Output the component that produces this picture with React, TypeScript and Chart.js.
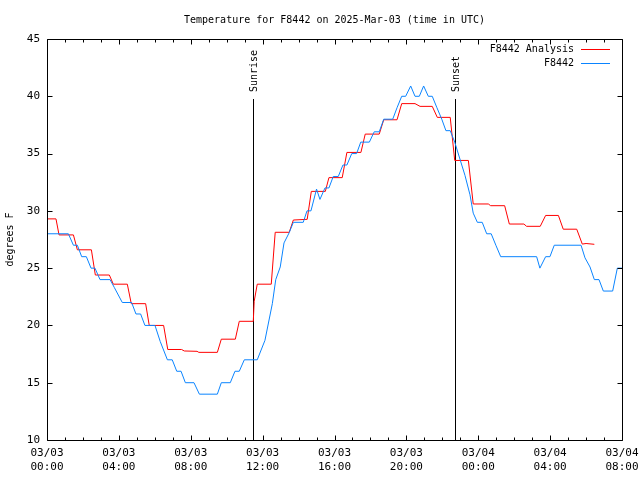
import React, { useEffect, useRef } from "react";
import { Chart, registerables } from "chart.js";

Chart.register(...registerables);

const FONT = '"DejaVu Sans Mono", "Liberation Mono", monospace';

const titleText = "Temperature for F8442 on 2025-Mar-03 (time in UTC)";
const yAxisTitle = "degrees F";

// hours since 2025-03-03 00:00 UTC
const analysisHours = [
  0, 0.5, 0.67, 1.47, 1.69, 2.47, 2.69, 3.47, 3.69, 4.47, 4.69, 5.49, 5.69, 6.49, 6.72, 7.49, 7.64, 8.35,
  8.45, 9.48, 9.7, 10.48, 10.7, 11.48, 11.53, 11.7, 12.48, 12.7, 13.48, 13.71, 14.48, 14.71, 15.49, 15.69,
  16.43, 16.69, 17.47, 17.71, 18.49, 18.74, 19.48, 19.74, 20.48, 20.76, 21.44, 21.72, 22.44, 22.69, 23.45,
  23.72, 24.56, 24.69, 25.47, 25.73, 26.54, 26.69, 27.45, 27.75, 28.46, 28.73, 29.48, 29.79, 30.0, 30.46,
];
const analysisTemps = [
  29.3, 29.3, 27.9, 27.9, 26.6, 26.6, 24.4, 24.4, 23.6, 23.6, 21.9, 21.9, 20.0, 20.0, 17.9, 17.9, 17.77, 17.74,
  17.65, 17.65, 18.8, 18.8, 20.36, 20.36, 22.1, 23.6, 23.6, 28.13, 28.13, 29.2, 29.26, 31.7, 31.7, 32.9,
  32.9, 35.1, 35.1, 36.7, 36.7, 37.95, 37.95, 39.36, 39.36, 39.12, 39.12, 38.16, 38.16, 34.4, 34.4,
  30.6, 30.6, 30.45, 30.45, 28.85, 28.85, 28.65, 28.65, 29.6, 29.6, 28.4, 28.4, 27.1, 27.15, 27.08,
];

const obsHours = [
  0, 1.19, 1.47, 1.69, 1.93, 2.19, 2.45, 2.67, 2.95, 3.51, 3.75, 4.19, 4.71, 4.95, 5.21, 5.45, 6.01, 6.3,
  6.7, 6.97, 7.22, 7.46, 7.7, 8.18, 8.48, 9.48, 9.7, 10.2, 10.46, 10.7, 10.98, 11.7, 12.13, 12.54, 12.73,
  12.98, 13.19, 13.48, 13.71, 14.26, 14.47, 14.69, 15.0, 15.19, 15.47, 15.69, 15.93, 16.21, 16.47, 16.69,
  16.96, 17.23, 17.46, 17.94, 18.21, 18.49, 18.74, 19.24, 19.48, 19.74, 19.96, 20.24, 20.48, 20.72, 20.96,
  21.22, 21.44, 21.7, 21.97, 22.2, 22.44, 22.69, 23.26, 23.54, 23.72, 23.95, 24.22, 24.47, 24.72, 24.98,
  25.25, 27.25, 27.43, 27.75, 27.99, 28.23, 29.72, 29.94, 30.22, 30.46, 30.72, 30.96, 31.48, 31.74, 32.0,
];
const obsTemps = [
  28.0, 28.0, 27.0, 27.0, 26.0, 26.0, 25.0, 25.0, 24.0, 24.0, 23.3, 22.0, 22.0, 21.0, 21.0, 20.0, 20.0, 18.6,
  17.0, 17.0, 16.0, 16.0, 15.0, 15.0, 14.0, 14.0, 15.0, 15.0, 16.0, 16.0, 17.0, 17.0, 18.7, 21.9, 24.0,
  25.1, 27.2, 28.1, 29.0, 29.0, 30.0, 30.0, 31.9, 31.0, 32.0, 32.0, 33.0, 33.0, 34.0, 34.0,
  35.0, 35.0, 36.0, 36.0, 36.9, 36.9, 38.0, 38.0, 39.0, 40.0, 40.0, 40.9, 40.0, 40.0, 40.9,
  40.0, 40.0, 39.0, 38.0, 37.0, 37.0, 36.0, 33.1, 31.4, 29.8, 29.0, 29.0, 28.0, 28.0, 27.0,
  26.0, 26.0, 25.0, 26.0, 26.0, 27.0, 27.0, 25.9, 25.1, 24.0, 24.0, 23.0, 23.0, 25.0, 25.0,
];

const xTickHours = [0, 4, 8, 12, 16, 20, 24, 28, 32];
const xTickLabels = [
  ["03/03", "00:00"], ["03/03", "04:00"], ["03/03", "08:00"], ["03/03", "12:00"], ["03/03", "16:00"],
  ["03/03", "20:00"], ["03/04", "00:00"], ["03/04", "04:00"], ["03/04", "08:00"],
];
const yTickValues = [10, 15, 20, 25, 30, 35, 40, 45];

const sunEventNames = ["Sunrise", "Sunset"];
const sunEventHours = [11.48, 22.72];

const seriesNames = ["F8442 Analysis", "F8442"];
const seriesColors = ["#ff0000", "#0a84ff"];

const decorPlugin = {
  id: "decor",
  beforeDatasetsDraw(chart: any) {
    const { ctx, chartArea: a, scales } = chart;
    const x = scales.x;
    ctx.save();
    ctx.strokeStyle = "#000";
    ctx.fillStyle = "#000";
    ctx.lineWidth = 1;
    sunEventHours.forEach((h, i) => {
      const px = Math.round(x.getPixelForValue(h)) + 0.5;
      ctx.beginPath();
      ctx.moveTo(px, 99);
      ctx.lineTo(px, a.bottom);
      ctx.stroke();
      ctx.save();
      ctx.translate(px + 1, 92);
      ctx.rotate(-Math.PI / 2);
      ctx.font = `10px ${FONT}`;
      ctx.textAlign = "left";
      ctx.textBaseline = "middle";
      ctx.fillText(sunEventNames[i], 0, 0);
      ctx.restore();
    });
    ctx.restore();
  },
  afterDraw(chart: any) {
    const { ctx, chartArea: a, scales } = chart;
    const x = scales.x;
    const y = scales.y;
    ctx.save();
    ctx.strokeStyle = "#000";
    ctx.fillStyle = "#000";
    ctx.lineWidth = 1;
    const L = Math.round(a.left) + 0.5;
    const R = Math.round(a.right) + 0.5;
    const T = Math.round(a.top) + 0.5;
    const B = Math.round(a.bottom) + 0.5;
    ctx.beginPath();
    ctx.moveTo(L, T);
    ctx.lineTo(R, T);
    ctx.lineTo(R, B);
    ctx.lineTo(L, B);
    ctx.closePath();
    ctx.stroke();
    // x ticks (major every 4h, minor every 1h)
    const hMin = xTickHours[0];
    const hMax = xTickHours[xTickHours.length - 1];
    ctx.beginPath();
    for (let h = hMin; h <= hMax; h++) {
      const px = Math.round(x.getPixelForValue(h)) + 0.5;
      const len = xTickHours.includes(h) ? 5 : 3;
      ctx.moveTo(px, B);
      ctx.lineTo(px, B - len);
      ctx.moveTo(px, T);
      ctx.lineTo(px, T + len);
    }
    yTickValues.forEach((v) => {
      const py = Math.round(y.getPixelForValue(v)) + 0.5;
      ctx.moveTo(L, py);
      ctx.lineTo(L + 5, py);
      ctx.moveTo(R, py);
      ctx.lineTo(R - 5, py);
    });
    ctx.stroke();

    // title
    ctx.font = `10px ${FONT}`;
    ctx.textAlign = "center";
    ctx.textBaseline = "middle";
    ctx.fillText(titleText, (a.left + a.right) / 2, 20);

    // y axis title
    ctx.save();
    ctx.translate(10, (a.top + a.bottom) / 2);
    ctx.rotate(-Math.PI / 2);
    ctx.textAlign = "center";
    ctx.textBaseline = "middle";
    ctx.fillText(yAxisTitle, 0, 0);
    ctx.restore();

    // legend
    seriesNames.forEach((name, i) => {
      const ly = 49 + i * 14;
      ctx.textAlign = "right";
      ctx.textBaseline = "middle";
      ctx.fillStyle = "#000";
      ctx.fillText(name, 574, ly);
      ctx.strokeStyle = seriesColors[i];
      ctx.beginPath();
      ctx.moveTo(581, ly + 0.5);
      ctx.lineTo(610, ly + 0.5);
      ctx.stroke();
    });
    ctx.restore();
  },
};

export default function App() {
  const ref = useRef<HTMLCanvasElement | null>(null);
  useEffect(() => {
    if (!ref.current) return;
    const chart = new Chart(ref.current, {
      type: "line",
      data: {
        datasets: [
          {
            label: seriesNames[0],
            data: analysisHours.map((h, i) => ({ x: h, y: analysisTemps[i] })),
            borderColor: seriesColors[0],
            borderWidth: 1,
            pointRadius: 0,
            tension: 0,
            fill: false,
            order: 1,
          },
          {
            label: seriesNames[1],
            data: obsHours.map((h, i) => ({ x: h, y: obsTemps[i] })),
            borderColor: seriesColors[1],
            borderWidth: 1,
            pointRadius: 0,
            tension: 0,
            fill: false,
            order: 0,
          },
        ],
      },
      options: {
        responsive: false,
        animation: false,
        devicePixelRatio: 1,
        layout: { padding: { left: 0, right: 18, top: 39, bottom: 0 } },
        plugins: {
          legend: { display: false },
          tooltip: { enabled: false },
          title: { display: false },
        },
        scales: {
          x: {
            type: "linear",
            min: xTickHours[0],
            max: xTickHours[xTickHours.length - 1],
            grid: { display: false, drawTicks: false },
            border: { display: false },
            afterFit: (s: any) => {
              s.height = 40;
              s.paddingLeft = 0;
              s.paddingRight = 0;
            },
            afterBuildTicks: (s: any) => {
              s.ticks = xTickHours.map((v) => ({ value: v }));
            },
            ticks: {
              autoSkip: false,
              maxRotation: 0,
              minRotation: 0,
              padding: 6,
              color: "#000",
              font: { family: FONT, size: 11, lineHeight: 1.27 },
              callback: (v: any) => {
                const i = xTickHours.indexOf(Number(v));
                return i >= 0 ? xTickLabels[i] : "";
              },
            },
          },
          y: {
            type: "linear",
            min: yTickValues[0],
            max: yTickValues[yTickValues.length - 1],
            grid: { display: false, drawTicks: false },
            border: { display: false },
            afterFit: (s: any) => {
              s.width = 47;
              s.paddingTop = 0;
              s.paddingBottom = 0;
            },
            afterBuildTicks: (s: any) => {
              s.ticks = yTickValues.map((v) => ({ value: v }));
            },
            ticks: {
              padding: 7,
              color: "#000",
              font: { family: FONT, size: 11 },
            },
          },
        },
      },
      plugins: [decorPlugin],
    });
    return () => chart.destroy();
  }, []);
  return (
    <div style={{ position: "absolute", left: 0, top: 0, width: 640, height: 480, background: "#fff" }}>
      <canvas ref={ref} width={640} height={480} style={{ display: "block" }} />
    </div>
  );
}
